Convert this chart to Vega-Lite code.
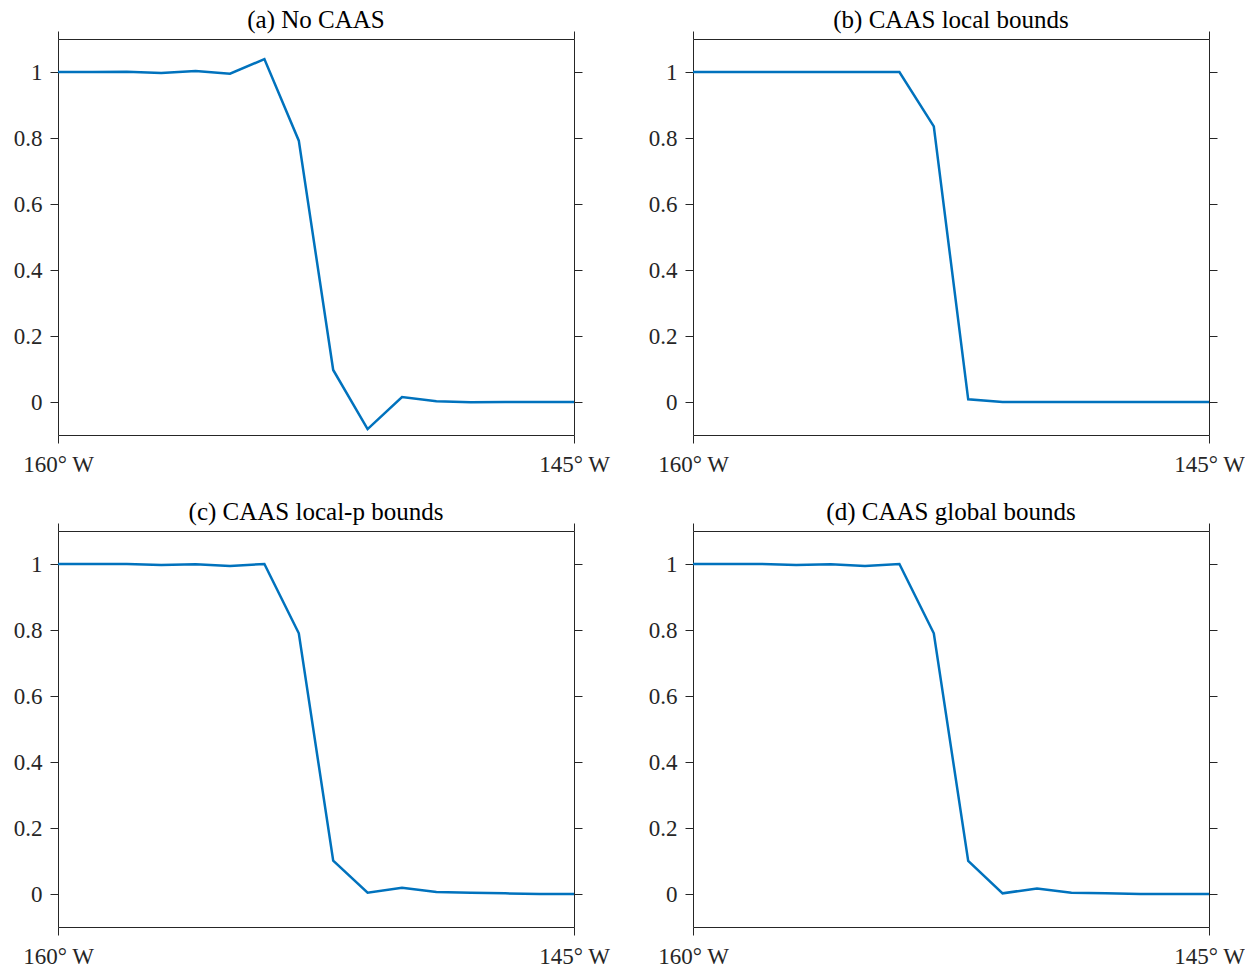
{
  "$schema": "https://vega.github.io/schema/vega-lite/v6.json",
  "padding": {"left": 13, "top": 7, "right": 0, "bottom": 0},
  "background": "white",
  "bounds": "flush",
  "columns": 2,
  "spacing": {"column": 119, "row": 96},
  "data": {"values": [
    {"panel": "a", "lon": -160, "value": 1.0},
    {"panel": "a", "lon": -159, "value": 1.0},
    {"panel": "a", "lon": -158, "value": 1.001},
    {"panel": "a", "lon": -157, "value": 0.997},
    {"panel": "a", "lon": -156, "value": 1.003},
    {"panel": "a", "lon": -155, "value": 0.995},
    {"panel": "a", "lon": -154, "value": 1.039},
    {"panel": "a", "lon": -153, "value": 0.792},
    {"panel": "a", "lon": -152, "value": 0.097},
    {"panel": "a", "lon": -151, "value": -0.082},
    {"panel": "a", "lon": -150, "value": 0.015},
    {"panel": "a", "lon": -149, "value": 0.002},
    {"panel": "a", "lon": -148, "value": -0.001},
    {"panel": "a", "lon": -147, "value": 0.0},
    {"panel": "a", "lon": -146, "value": 0.0},
    {"panel": "a", "lon": -145, "value": 0.0},
    {"panel": "b", "lon": -160, "value": 1.0},
    {"panel": "b", "lon": -159, "value": 1.0},
    {"panel": "b", "lon": -158, "value": 1.0},
    {"panel": "b", "lon": -157, "value": 1.0},
    {"panel": "b", "lon": -156, "value": 1.0},
    {"panel": "b", "lon": -155, "value": 1.0},
    {"panel": "b", "lon": -154, "value": 1.0},
    {"panel": "b", "lon": -153, "value": 0.835},
    {"panel": "b", "lon": -152, "value": 0.008},
    {"panel": "b", "lon": -151, "value": 0.0},
    {"panel": "b", "lon": -150, "value": 0.0},
    {"panel": "b", "lon": -149, "value": 0.0},
    {"panel": "b", "lon": -148, "value": 0.0},
    {"panel": "b", "lon": -147, "value": 0.0},
    {"panel": "b", "lon": -146, "value": 0.0},
    {"panel": "b", "lon": -145, "value": 0.0},
    {"panel": "c", "lon": -160, "value": 1.0},
    {"panel": "c", "lon": -159, "value": 1.0},
    {"panel": "c", "lon": -158, "value": 1.0},
    {"panel": "c", "lon": -157, "value": 0.997},
    {"panel": "c", "lon": -156, "value": 0.999},
    {"panel": "c", "lon": -155, "value": 0.994},
    {"panel": "c", "lon": -154, "value": 1.0},
    {"panel": "c", "lon": -153, "value": 0.79},
    {"panel": "c", "lon": -152, "value": 0.101},
    {"panel": "c", "lon": -151, "value": 0.004},
    {"panel": "c", "lon": -150, "value": 0.019},
    {"panel": "c", "lon": -149, "value": 0.006},
    {"panel": "c", "lon": -148, "value": 0.004},
    {"panel": "c", "lon": -147, "value": 0.002},
    {"panel": "c", "lon": -146, "value": 0.0},
    {"panel": "c", "lon": -145, "value": 0.0},
    {"panel": "d", "lon": -160, "value": 1.0},
    {"panel": "d", "lon": -159, "value": 1.0},
    {"panel": "d", "lon": -158, "value": 1.0},
    {"panel": "d", "lon": -157, "value": 0.997},
    {"panel": "d", "lon": -156, "value": 0.999},
    {"panel": "d", "lon": -155, "value": 0.994},
    {"panel": "d", "lon": -154, "value": 1.0},
    {"panel": "d", "lon": -153, "value": 0.79},
    {"panel": "d", "lon": -152, "value": 0.1},
    {"panel": "d", "lon": -151, "value": 0.002},
    {"panel": "d", "lon": -150, "value": 0.017},
    {"panel": "d", "lon": -149, "value": 0.004},
    {"panel": "d", "lon": -148, "value": 0.002},
    {"panel": "d", "lon": -147, "value": 0.0},
    {"panel": "d", "lon": -146, "value": 0.0},
    {"panel": "d", "lon": -145, "value": 0.0}
  ]},
  "config": {
    "view": {"stroke": null},
    "axis": {
      "grid": false,
      "domainColor": "#262626",
      "domainWidth": 1,
      "tickColor": "#262626",
      "tickWidth": 1,
      "tickSize": 8,
      "labelColor": "#262626",
      "labelFont": "Liberation Serif",
      "labelFontSize": 23,
      "titleFont": "Liberation Serif"
    },
    "title": {"font": "Liberation Serif", "fontSize": 25, "fontWeight": "normal", "color": "#000000", "offset": -2}
  },
  "concat": [
    {
      "title": "(a) No CAAS",
      "width": 516, "height": 396,
      "transform": [{"filter": "datum.panel === 'a'"}],
      "layer": [
        {"mark": {"type": "line", "color": "#0072BD", "strokeWidth": 2.5},
         "encoding": {
           "x": {"field": "lon", "type": "quantitative", "scale": {"domain": [-160, -145], "nice": false, "zero": false},
                 "axis": {"orient": "bottom", "values": [-160, -145], "labelExpr": "abs(datum.value) + '° W'", "title": null, "labelPadding": 10, "labelFlush": false}},
           "y": {"field": "value", "type": "quantitative", "scale": {"domain": [-0.1, 1.1], "nice": false, "zero": false},
                 "axis": {"orient": "left", "values": [0, 0.2, 0.4, 0.6, 0.8, 1], "format": "~g", "title": null, "labelPadding": 8}}
         }},
        {"mark": {"type": "line", "opacity": 0},
         "encoding": {
           "x": {"field": "lon", "type": "quantitative", "axis": {"orient": "top", "values": [-160, -145], "labels": false, "title": null}},
           "y": {"field": "value", "type": "quantitative", "axis": {"orient": "right", "values": [0, 0.2, 0.4, 0.6, 0.8, 1], "labels": false, "title": null}}
         }}
      ],
      "resolve": {"axis": {"x": "independent", "y": "independent"}}
    },
    {
      "title": "(b) CAAS local bounds",
      "width": 516, "height": 396,
      "transform": [{"filter": "datum.panel === 'b'"}],
      "layer": [
        {"mark": {"type": "line", "color": "#0072BD", "strokeWidth": 2.5},
         "encoding": {
           "x": {"field": "lon", "type": "quantitative", "scale": {"domain": [-160, -145], "nice": false, "zero": false},
                 "axis": {"orient": "bottom", "values": [-160, -145], "labelExpr": "abs(datum.value) + '° W'", "title": null, "labelPadding": 10, "labelFlush": false}},
           "y": {"field": "value", "type": "quantitative", "scale": {"domain": [-0.1, 1.1], "nice": false, "zero": false},
                 "axis": {"orient": "left", "values": [0, 0.2, 0.4, 0.6, 0.8, 1], "format": "~g", "title": null, "labelPadding": 8}}
         }},
        {"mark": {"type": "line", "opacity": 0},
         "encoding": {
           "x": {"field": "lon", "type": "quantitative", "axis": {"orient": "top", "values": [-160, -145], "labels": false, "title": null}},
           "y": {"field": "value", "type": "quantitative", "axis": {"orient": "right", "values": [0, 0.2, 0.4, 0.6, 0.8, 1], "labels": false, "title": null}}
         }}
      ],
      "resolve": {"axis": {"x": "independent", "y": "independent"}}
    },
    {
      "title": "(c) CAAS local-p bounds",
      "width": 516, "height": 396,
      "transform": [{"filter": "datum.panel === 'c'"}],
      "layer": [
        {"mark": {"type": "line", "color": "#0072BD", "strokeWidth": 2.5},
         "encoding": {
           "x": {"field": "lon", "type": "quantitative", "scale": {"domain": [-160, -145], "nice": false, "zero": false},
                 "axis": {"orient": "bottom", "values": [-160, -145], "labelExpr": "abs(datum.value) + '° W'", "title": null, "labelPadding": 10, "labelFlush": false}},
           "y": {"field": "value", "type": "quantitative", "scale": {"domain": [-0.1, 1.1], "nice": false, "zero": false},
                 "axis": {"orient": "left", "values": [0, 0.2, 0.4, 0.6, 0.8, 1], "format": "~g", "title": null, "labelPadding": 8}}
         }},
        {"mark": {"type": "line", "opacity": 0},
         "encoding": {
           "x": {"field": "lon", "type": "quantitative", "axis": {"orient": "top", "values": [-160, -145], "labels": false, "title": null}},
           "y": {"field": "value", "type": "quantitative", "axis": {"orient": "right", "values": [0, 0.2, 0.4, 0.6, 0.8, 1], "labels": false, "title": null}}
         }}
      ],
      "resolve": {"axis": {"x": "independent", "y": "independent"}}
    },
    {
      "title": "(d) CAAS global bounds",
      "width": 516, "height": 396,
      "transform": [{"filter": "datum.panel === 'd'"}],
      "layer": [
        {"mark": {"type": "line", "color": "#0072BD", "strokeWidth": 2.5},
         "encoding": {
           "x": {"field": "lon", "type": "quantitative", "scale": {"domain": [-160, -145], "nice": false, "zero": false},
                 "axis": {"orient": "bottom", "values": [-160, -145], "labelExpr": "abs(datum.value) + '° W'", "title": null, "labelPadding": 10, "labelFlush": false}},
           "y": {"field": "value", "type": "quantitative", "scale": {"domain": [-0.1, 1.1], "nice": false, "zero": false},
                 "axis": {"orient": "left", "values": [0, 0.2, 0.4, 0.6, 0.8, 1], "format": "~g", "title": null, "labelPadding": 8}}
         }},
        {"mark": {"type": "line", "opacity": 0},
         "encoding": {
           "x": {"field": "lon", "type": "quantitative", "axis": {"orient": "top", "values": [-160, -145], "labels": false, "title": null}},
           "y": {"field": "value", "type": "quantitative", "axis": {"orient": "right", "values": [0, 0.2, 0.4, 0.6, 0.8, 1], "labels": false, "title": null}}
         }}
      ],
      "resolve": {"axis": {"x": "independent", "y": "independent"}}
    }
  ]
}
